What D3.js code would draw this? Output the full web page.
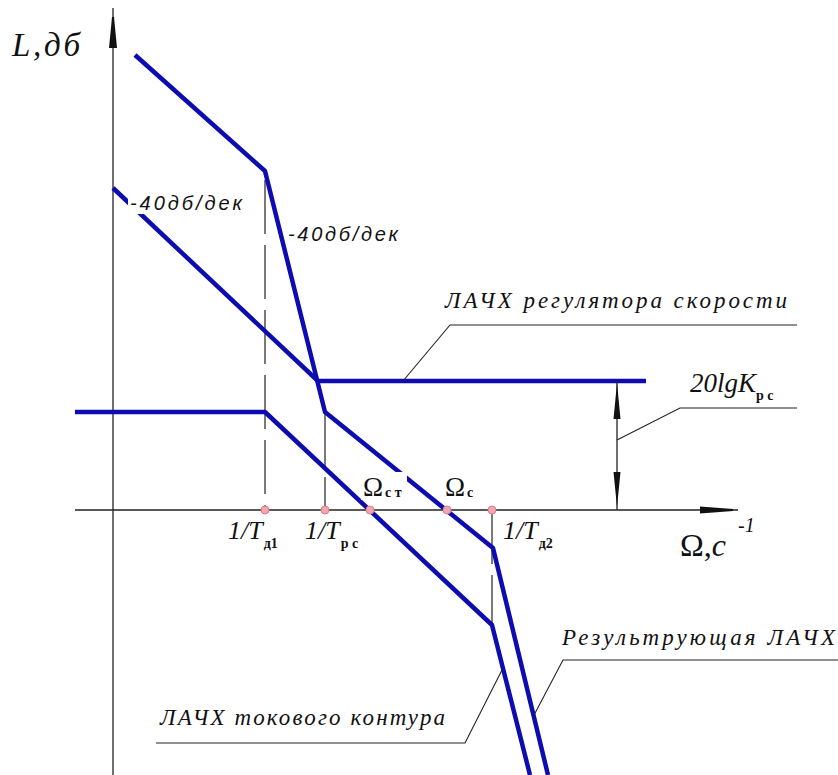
<!DOCTYPE html>
<html>
<head>
<meta charset="utf-8">
<script src="https://cdn.jsdelivr.net/npm/d3@7/dist/d3.min.js"></script>
<style>
  html, body { margin: 0; padding: 0; background: #fff; }
  svg { display: block; }
  .serif { font-family: "Liberation Serif", "DejaVu Serif", serif; font-style: italic; }
  .sans { font-family: "Liberation Sans", "DejaVu Sans", sans-serif; font-style: italic; }
</style>
</head>
<body>
<svg id="chart" width="838" height="775"></svg>
<script>
// Asymptotic Bode magnitude plots: lg(Ω) on x, L in dB on y.

// Resulting open-loop asymptote
const resultLg = [0.22, 1.52, 2.12, 3.80, 4.35];
const resultDb = [91, 67.8, 19.6, -7.6, -53];

// Speed regulator asymptote
const speedRegLg = [0, 2.05, 5.33];
const speedRegDb = [64.4, 25.8, 25.8];

// Current loop asymptote
const currentLoopLg = [-0.38, 1.52, 3.79, 4.17];
const currentLoopDb = [19.6, 19.6, -23, -53];

// Corner / crossover frequencies on the Ω axis
const breakLg = [1.52, 2.12, 2.57, 3.34, 3.79];
const breakMain = ["1/T", "1/T", "Ω", "Ω", "1/T"];
const breakSub = ["д1", "р с", "с т", "с", "д2"];

// Regulator gain 20lgKрс
const regGainDb = 25.8;

const svg = d3.select("#chart");
const x = d3.scaleLinear().domain([0, 7.25]).range([113, 838]);
const y = d3.scaleLinear().domain([0, 100]).range([510, 10]);

const blue = "#0c0cb0";
const zip = (a, b) => a.map((v, i) => [v, b[i]]);
const line = d3.line().x(d => x(d[0])).y(d => y(d[1]));

// ---- axes ----
svg.append("line").attr("x1", x(0)).attr("x2", x(0))
  .attr("y1", 775).attr("y2", 8).attr("stroke", "#222").attr("stroke-width", 1.3);
svg.append("path")
  .attr("d", `M${x(0) - 1},17 L${x(0) + 1},17 L${x(0) + 4},48 L${x(0) - 4},48 Z`).attr("fill", "#111");

svg.append("line").attr("x1", x(-0.38)).attr("x2", 738)
  .attr("y1", y(0)).attr("y2", y(0)).attr("stroke", "#222").attr("stroke-width", 1.3);
svg.append("path")
  .attr("d", `M733,${y(0) - 1} L733,${y(0) + 1} L700,${y(0) + 3.5} L700,${y(0) - 3.5} Z`).attr("fill", "#111");

// Axis titles
svg.append("text").attr("class", "serif").attr("x", 12).attr("y", 56)
  .attr("font-size", 33).attr("textLength", 68).attr("fill", "#111").text("L,дб");
const om = svg.append("text").attr("x", 680).attr("y", 556)
  .attr("font-family", "Liberation Serif, DejaVu Serif, serif").attr("font-size", 32).attr("fill", "#111");
om.append("tspan").text("Ω,");
om.append("tspan").attr("font-style", "italic").text("c");
svg.append("text").attr("class", "serif").attr("x", 738).attr("y", 532)
  .attr("font-size", 20).attr("fill", "#111").text("-1");

// ---- vertical guides at corner frequencies ----
const guide = (lg, dbTop, dbBottom) =>
  svg.append("line").attr("x1", x(lg)).attr("x2", x(lg))
    .attr("y1", y(dbTop)).attr("y2", y(dbBottom))
    .attr("stroke", "#222").attr("stroke-width", 1.2).attr("stroke-dasharray", "54,11");
guide(breakLg[0], 66, 0);
guide(breakLg[1], resultDb[2], 0);
guide(breakLg[4], 0, currentLoopDb[2]);

// ---- asymptotes ----
const series = [zip(speedRegLg, speedRegDb), zip(currentLoopLg, currentLoopDb), zip(resultLg, resultDb)];
svg.selectAll("path.asym").data(series).join("path")
  .attr("class", "asym").attr("d", line)
  .attr("fill", "none").attr("stroke", blue).attr("stroke-width", 4.5)
  .attr("stroke-linejoin", "round");

// ---- 20lgKрс dimension ----
const dimX = 617;
svg.append("line").attr("x1", dimX).attr("x2", dimX).attr("y1", y(regGainDb)).attr("y2", y(0))
  .attr("stroke", "#222").attr("stroke-width", 1.3);
svg.append("path").attr("d",
  `M${dimX},${y(regGainDb) + 2} L${dimX + 3.5},${y(regGainDb) + 38} L${dimX - 3.5},${y(regGainDb) + 38} Z` +
  `M${dimX},${y(0) - 3} L${dimX + 3.5},${y(0) - 38} L${dimX - 3.5},${y(0) - 38} Z`)
  .attr("fill", "#111");

// ---- frequency markers and labels ----
const labelDx = [-37, -20, -7, -2, 11];
const labelAbove = [false, false, true, true, false];
breakLg.forEach((lg, i) => {
  const px = x(lg) + labelDx[i];
  if (labelAbove[i]) {
    svg.append("rect").attr("x", px - 2).attr("y", 472).attr("width", i === 2 ? 46 : 30)
      .attr("height", 28).attr("fill", "#fff");
    const t = svg.append("text").attr("x", px).attr("y", 496)
      .attr("font-family", "Liberation Serif, DejaVu Serif, serif").attr("fill", "#111");
    t.append("tspan").attr("font-size", 27).text(breakMain[i]);
    t.append("tspan").attr("font-size", 14).attr("dx", 2).attr("dy", 1).attr("font-weight", "bold").text(breakSub[i]);
  } else {
    const t = svg.append("text").attr("x", px).attr("y", 539)
      .attr("class", "serif").attr("fill", "#111");
    t.append("tspan").attr("font-size", 26).text(breakMain[i]);
    t.append("tspan").attr("font-size", 14).attr("font-style", "normal").attr("font-weight", "bold")
      .attr("dx", 1).attr("dy", 9).text(breakSub[i]);
  }
});
svg.selectAll("circle.mark").data(breakLg).join("circle")
  .attr("class", "mark").attr("cx", d => x(d)).attr("cy", y(0)).attr("r", 4)
  .attr("fill", "#f2a7ae").attr("stroke", "#e07f8a").attr("stroke-width", 1);

// ---- slope notes ----
svg.append("rect").attr("x", 128).attr("y", 192).attr("width", 116).attr("height", 22).attr("fill", "#fff");
svg.append("text").attr("class", "sans").attr("x", 130).attr("y", 210).attr("font-size", 20)
  .attr("textLength", 112).attr("fill", "#111").text("-40дб/дек");
svg.append("text").attr("class", "sans").attr("x", 288).attr("y", 241).attr("font-size", 20)
  .attr("textLength", 110).attr("fill", "#111").text("-40дб/дек");

// ---- leader callouts ----
const leader = (pts) => svg.append("path").attr("d", d3.line()(pts))
  .attr("fill", "none").attr("stroke", "#222").attr("stroke-width", 1.1);

leader([[x(2.9), y(speedRegDb[2])], [450, 325], [797, 325]]);
svg.append("text").attr("class", "serif").attr("x", 445).attr("y", 308).attr("font-size", 23)
  .attr("textLength", 342).attr("lengthAdjust", "spacing").attr("fill", "#111").text("ЛАЧХ регулятора скорости");

leader([[dimX, 440], [680, 408], [797, 408]]);
const kt = svg.append("text").attr("class", "serif").attr("x", 690).attr("y", 392).attr("fill", "#111");
kt.append("tspan").attr("font-size", 27).text("20lgK");
kt.append("tspan").attr("font-size", 14).attr("font-style", "normal").attr("font-weight", "bold")
  .attr("dy", 8).text("р с");

leader([[533, 717], [563, 660], [838, 660]]);
svg.append("text").attr("class", "serif").attr("x", 562).attr("y", 645).attr("font-size", 23)
  .attr("textLength", 273).attr("lengthAdjust", "spacing").attr("fill", "#111").text("Результрующая ЛАЧХ");

leader([[502, 670], [465, 743], [156, 743]]);
svg.append("text").attr("class", "serif").attr("x", 160).attr("y", 725).attr("font-size", 23)
  .attr("textLength", 285).attr("lengthAdjust", "spacing").attr("fill", "#111").text("ЛАЧХ токового контура");
</script>
</body>
</html>
